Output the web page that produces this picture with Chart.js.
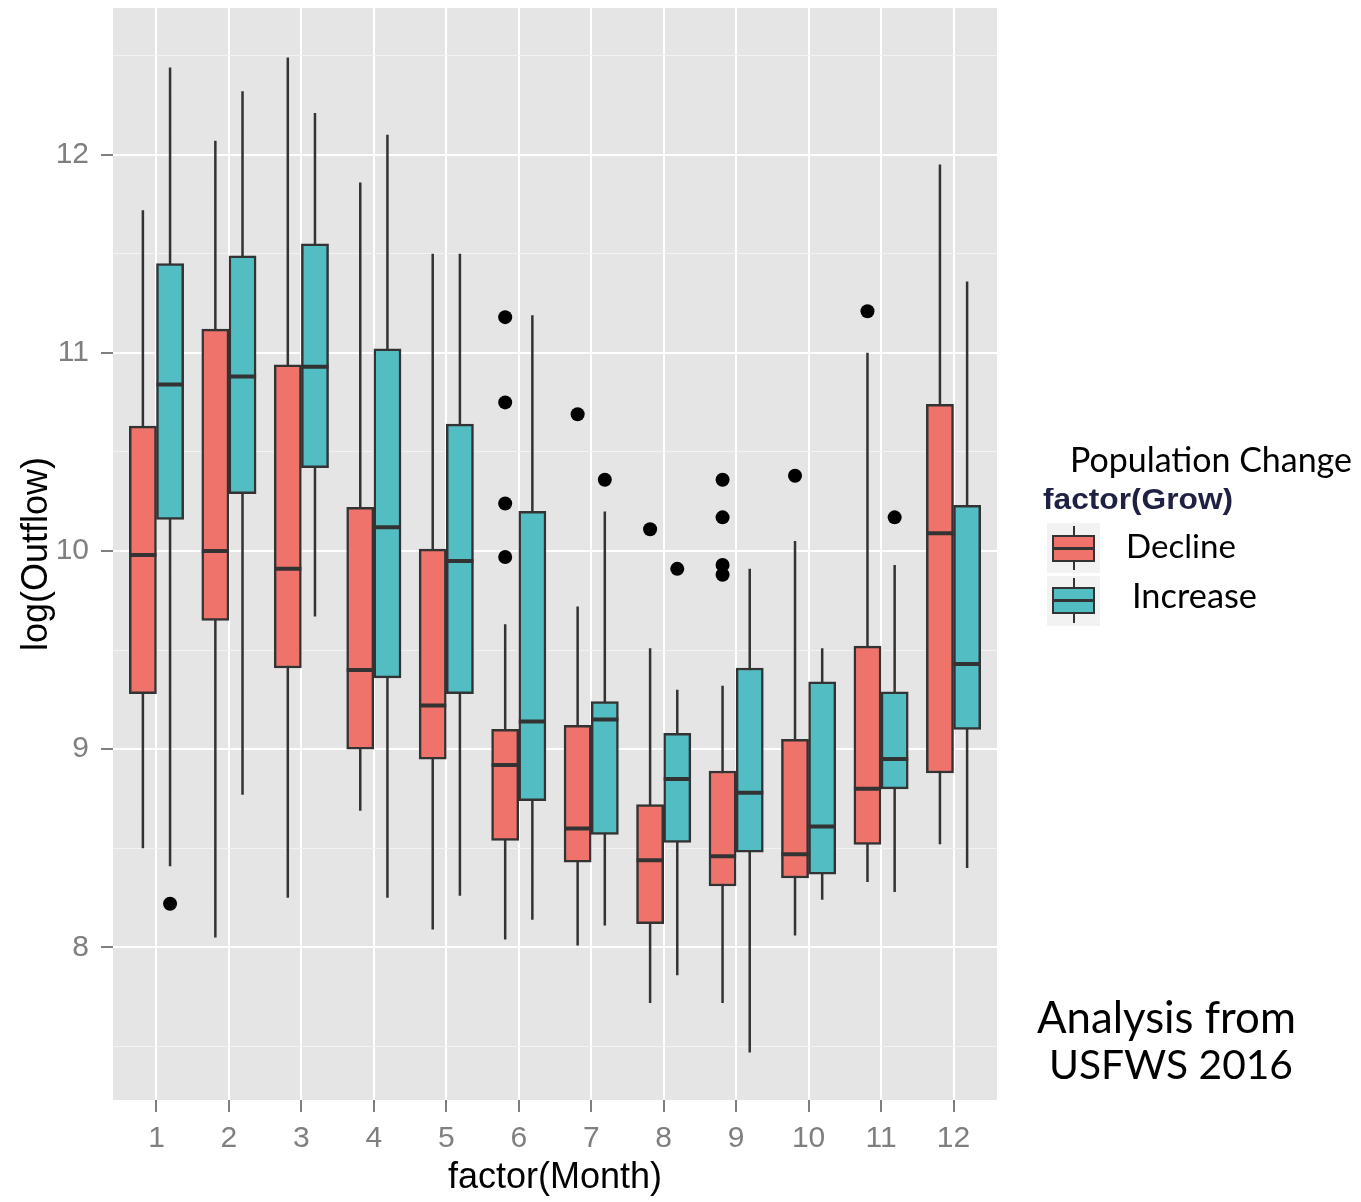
<!DOCTYPE html>
<html>
<head>
<meta charset="utf-8">
<script src="https://cdn.jsdelivr.net/npm/chart.js@4.4.1/dist/chart.umd.min.js"></script>
<style>
html,body{margin:0;padding:0;background:#ffffff;}
#wrap{position:relative;width:1361px;height:1202px;overflow:hidden;background:#ffffff;}
#c{position:absolute;left:0;top:0;}
.t{position:absolute;white-space:nowrap;line-height:1;color:#000;font-family:Lato,'Open Sans',sans-serif;}
.key{position:absolute;background:#F2F2F2;}
.kw{position:absolute;width:2px;background:#333333;}
.kb{position:absolute;box-sizing:border-box;border:2px solid #333333;}
.km{position:absolute;height:3px;background:#333333;}
#growClip{position:absolute;left:1040px;top:488px;width:210px;height:28px;overflow:hidden;}
#grow{position:absolute;left:3px;white-space:nowrap;line-height:1;font-family:'Liberation Sans',Arial,sans-serif;font-weight:bold;color:#1E2142;transform-origin:0 0;}
</style>
</head>
<body>
<div id="wrap">
  <canvas id="c" width="1361" height="1202"></canvas>
  <div class="t" id="popTitle" data-left="1070" data-base="472" data-w="282">Population Change</div>
  <div id="growClip"><div id="grow">factor(Grow)</div></div>
  <div class="key" style="left:1047px;top:523px;width:53px;height:50px;"></div>
  <div class="kw" style="left:1073px;top:526px;height:44px;"></div>
  <div class="kb" style="left:1052px;top:535px;width:43px;height:27px;background:#EF736B;"></div>
  <div class="km" style="left:1052px;top:547px;width:43px;"></div>
  <div class="key" style="left:1047px;top:576px;width:53px;height:50px;"></div>
  <div class="kw" style="left:1073px;top:578px;height:45px;"></div>
  <div class="kb" style="left:1052px;top:587px;width:43px;height:27px;background:#52BEC3;"></div>
  <div class="km" style="left:1052px;top:599px;width:43px;"></div>
  <div class="t" id="lblDecline" data-left="1126" data-base="558" data-w="110">Decline</div>
  <div class="t" id="lblIncrease" data-left="1132" data-base="608" data-w="125">Increase</div>
  <div class="t" id="note1" data-left="1037" data-base="1033" data-w="259">Analysis from</div>
  <div class="t" id="note2" data-left="1049" data-base="1079" data-w="244">USFWS 2016</div>
</div>
<script>
// ---------- data ----------
const months = ['1','2','3','4','5','6','7','8','9','10','11','12'];
const yMajorTicks = [8, 9, 10, 11, 12];
const yMinorTicks = [7.5, 8.5, 9.5, 10.5, 11.5, 12.5];
const seriesNames = ['Decline', 'Increase'];

const declineLow    = [8.50, 8.05, 8.25, 8.69, 8.09, 8.04, 8.01, 7.72, 7.72, 8.06, 8.33, 8.52];
const declineQ1     = [9.28, 9.65, 9.41, 9.00, 8.95, 8.54, 8.43, 8.12, 8.31, 8.35, 8.52, 8.88];
const declineMedian = [9.98, 10.00, 9.91, 9.40, 9.22, 8.92, 8.60, 8.44, 8.46, 8.47, 8.80, 10.09];
const declineQ3     = [10.63, 11.12, 10.94, 10.22, 10.01, 9.10, 9.12, 8.72, 8.89, 9.05, 9.52, 10.74];
const declineHigh   = [11.72, 12.07, 12.49, 11.86, 11.50, 9.63, 9.72, 9.51, 9.32, 10.05, 11.00, 11.95];
const declineOutliers = [[], [], [], [], [], [11.18, 10.75, 10.24, 9.97], [10.69], [10.11], [10.36, 10.17, 9.93, 9.88], [10.38], [11.21], []];

const increaseLow    = [8.41, 8.77, 9.67, 8.25, 8.26, 8.14, 8.11, 7.86, 7.47, 8.24, 8.28, 8.40];
const increaseQ1     = [10.16, 10.29, 10.42, 9.36, 9.28, 8.74, 8.57, 8.53, 8.48, 8.37, 8.80, 9.10];
const increaseMedian = [10.84, 10.88, 10.93, 10.12, 9.95, 9.14, 9.15, 8.85, 8.78, 8.61, 8.95, 9.43];
const increaseQ3     = [11.45, 11.49, 11.55, 11.02, 10.64, 10.20, 9.24, 9.08, 9.41, 9.34, 9.29, 10.23];
const increaseHigh   = [12.44, 12.32, 12.21, 12.10, 11.50, 11.19, 10.20, 9.30, 9.91, 9.51, 9.93, 11.36];
const increaseOutliers = [[8.22], [], [], [], [], [], [10.36], [9.91], [], [], [10.17], []];

// ---------- helpers (layout only) ----------
const DODGE = 0.1875;      // half of a dodged box slot (ggplot width 0.75 / 2 groups / 2)
const HALF_BOX = 0.1875;
const pos = (i, off) => i + 1 + off;

function whiskers(lo, hi, off) {
  const d = [];
  lo.forEach((v, i) => { const x = pos(i, off); d.push({x, y: v}, {x, y: hi[i]}, {x, y: null}); });
  return d;
}
function boxes(q1, q3, off) {
  return q1.map((v, i) => ({x: pos(i, off), y: [v, q3[i]]}));
}
function medians(med, off) {
  const d = [];
  med.forEach((v, i) => { const x = pos(i, off); d.push({x: x - HALF_BOX, y: v}, {x: x + HALF_BOX, y: v}, {x: x + HALF_BOX, y: null}); });
  return d;
}
function outliers(list, off) {
  const d = [];
  list.forEach((arr, i) => arr.forEach(v => d.push({x: pos(i, off), y: v})));
  return d;
}

const RED = '#EF736B', TEAL = '#52BEC3', INK = '#333333';

const plotBg = {
  id: 'plotBg',
  beforeDraw(chart) {
    const {ctx, chartArea: a} = chart;
    ctx.save();
    ctx.fillStyle = '#E5E5E5';
    ctx.fillRect(a.left, a.top, a.right - a.left, a.bottom - a.top);
    ctx.restore();
  }
};

const isMajor = v => yMajorTicks.includes(v);

new Chart(document.getElementById('c'), {
  type: 'bar',
  data: {
    datasets: [
      {type: 'line', label: seriesNames[0] + ' whiskers', data: whiskers(declineLow, declineHigh, -DODGE),
       borderColor: INK, borderWidth: 2.5, pointRadius: 0, spanGaps: false, order: 3},
      {type: 'line', label: seriesNames[1] + ' whiskers', data: whiskers(increaseLow, increaseHigh, DODGE),
       borderColor: INK, borderWidth: 2.5, pointRadius: 0, spanGaps: false, order: 3},
      {type: 'bar', label: seriesNames[0], data: boxes(declineQ1, declineQ3, -DODGE),
       backgroundColor: RED, borderColor: INK, borderWidth: 2.5, borderSkipped: false,
       grouped: false, barPercentage: 1, categoryPercentage: 1, order: 2},
      {type: 'bar', label: seriesNames[1], data: boxes(increaseQ1, increaseQ3, DODGE),
       backgroundColor: TEAL, borderColor: INK, borderWidth: 2.5, borderSkipped: false,
       grouped: false, barPercentage: 1, categoryPercentage: 1, order: 2},
      {type: 'line', label: seriesNames[0] + ' median', data: medians(declineMedian, -DODGE),
       borderColor: INK, borderWidth: 4, pointRadius: 0, spanGaps: false, order: 1},
      {type: 'line', label: seriesNames[1] + ' median', data: medians(increaseMedian, DODGE),
       borderColor: INK, borderWidth: 4, pointRadius: 0, spanGaps: false, order: 1},
      {type: 'line', label: 'Outliers', data: outliers(declineOutliers, -DODGE).concat(outliers(increaseOutliers, DODGE)),
       showLine: false, pointRadius: 7, pointHoverRadius: 7, pointBackgroundColor: '#000', pointBorderWidth: 0, order: 0}
    ]
  },
  options: {
    responsive: false,
    devicePixelRatio: 1,
    animation: false,
    layout: {padding: {left: 0, top: 8, right: 364, bottom: 0}},
    plugins: {legend: {display: false}, tooltip: {enabled: false}},
    scales: {
      x: {
        type: 'linear',
        min: 0.4, max: 12.6,
        offset: false,
        afterBuildTicks: s => { s.ticks = months.map((m, i) => ({value: i + 1})); },
        afterFit: s => { s.height = 102; s.paddingLeft = 0; s.paddingRight = 0; },
        grid: {offset: false, color: '#FFFFFF', lineWidth: 2, tickColor: '#7F7F7F', tickWidth: 2, tickLength: 12},
        border: {display: false},
        ticks: {
          autoSkip: false, maxRotation: 0, padding: 9,
          color: '#7F7F7F', font: {family: "'Liberation Sans', Arial, sans-serif", size: 30},
          callback: v => months[v - 1]
        },
        title: {display: true, text: 'factor(Month)', color: '#000',
                font: {family: "'Liberation Sans', Arial, sans-serif", size: 36}, padding: {top: 0, bottom: 2}}
      },
      y: {
        type: 'linear',
        min: 7.23, max: 12.74,
        beginAtZero: false,
        afterBuildTicks: s => { s.ticks = yMinorTicks.concat(yMajorTicks).sort((a, b) => a - b).map(v => ({value: v})); },
        afterFit: s => { s.width = 113; s.paddingTop = 0; s.paddingBottom = 0; },
        grid: {
          color: c => isMajor(c.tick && c.tick.value) ? '#FFFFFF' : '#F3F3F3',
          lineWidth: c => isMajor(c.tick && c.tick.value) ? 2 : 1,
          tickColor: c => isMajor(c.tick && c.tick.value) ? '#7F7F7F' : 'rgba(0,0,0,0)',
          tickWidth: 2, tickLength: 12
        },
        border: {display: false},
        ticks: {
          padding: 12, color: '#7F7F7F',
          font: {family: "'Liberation Sans', Arial, sans-serif", size: 30},
          callback: v => isMajor(v) ? String(v) : ''
        },
        title: {display: true, text: 'log(Outflow)', color: '#000',
                font: {family: "'Liberation Sans', Arial, sans-serif", size: 36}, padding: {top: 15, bottom: 0}}
      }
    }
  },
  plugins: [plotBg]
});

// ---------- text placement (fit width, align baseline) ----------
const mctx = document.createElement('canvas').getContext('2d');
function baselineOffset(el) {
  const probe = document.createElement('span');
  probe.style.cssText = 'display:inline-block;width:0;height:0;vertical-align:baseline;';
  el.appendChild(probe);
  const off = probe.getBoundingClientRect().top - el.getBoundingClientRect().top;
  el.removeChild(probe);
  return off;
}
function placeText(el) {
  const fam = "Lato, 'Open Sans', sans-serif";
  mctx.font = '40px ' + fam;
  const w = mctx.measureText(el.textContent).width;
  const size = 40 * (+el.dataset.w) / w;
  el.style.fontSize = size.toFixed(2) + 'px';
  el.style.left = el.dataset.left + 'px';
  el.style.top = '0px';
  el.style.top = (+el.dataset.base - baselineOffset(el)).toFixed(1) + 'px';
}
document.querySelectorAll('.t').forEach(placeText);

(function placeGrow() {
  const el = document.getElementById('grow');
  el.style.fontSize = '30px';
  mctx.font = "bold 30px 'Liberation Sans', Arial, sans-serif";
  const w = mctx.measureText(el.textContent).width;
  el.style.transform = 'scaleX(' + (190 / w).toFixed(3) + ')';
  el.style.top = '0px';
  el.style.top = (509 - 488 - baselineOffset(el)).toFixed(1) + 'px';
})();
</script>
</body>
</html>
